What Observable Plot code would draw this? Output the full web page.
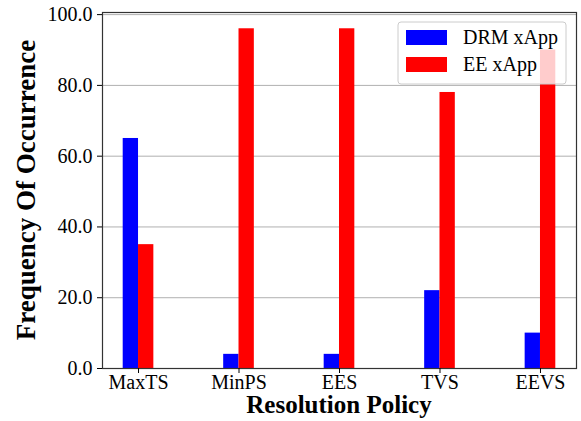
<!DOCTYPE html>
<html><head><meta charset="utf-8">
<script src="https://cdn.jsdelivr.net/npm/d3@7"></script>
<script src="https://cdn.jsdelivr.net/npm/@observablehq/plot@0.6"></script>
<style>body{margin:0;background:#fff;} #chart{position:relative;width:581px;height:421px;}
#chart svg text{font-family:"Liberation Serif","Times New Roman",serif;}</style>
</head><body><div id="chart"></div>
<script>
const categories = ["MaxTS", "MinPS", "EES", "TVS", "EEVS"];
const drmValues = [65, 4, 4, 22, 10];
const eeValues = [35, 96, 96, 78, 90];
const seriesNames = ["DRM xApp", "EE xApp"];
const seriesColors = ["#0000ff", "#ff0000"];
const yTicks = [0, 20, 40, 60, 80, 100];
const xLabel = "Resolution Policy";
const yLabel = "Frequency Of Occurrence";

const W = 581, H = 421, mL = 102, mR = 5, mT = 12, mB = 53;
const pIn = 0.695, pOut = 0.206;
const step = (W - mL - mR) / (categories.length - pIn + 2 * pOut);
const half = step * (1 - pIn) / 2;

const drm = categories.map((c, i) => ({category: c, value: drmValues[i]}));
const ee = categories.map((c, i) => ({category: c, value: eeValues[i]}));
const font = "Liberation Serif, Times New Roman, serif";

const plot = Plot.plot({
  width: W, height: H, marginLeft: mL, marginRight: mR, marginTop: mT, marginBottom: mB,
  style: "font-family: 'Liberation Serif', serif; font-size: 20px; background: #fff; color: #000;",
  x: {domain: categories, paddingInner: pIn, paddingOuter: pOut, round: false, label: null},
  y: {domain: [0, 100.6], label: null},
  marks: [
    Plot.ruleY(yTicks, {stroke: "#b0b0b0", strokeWidth: 1}),
    Plot.barY(drm, {x: "category", y: "value", fill: seriesColors[0], insetLeft: 0, insetRight: half}),
    Plot.barY(ee, {x: "category", y: "value", fill: seriesColors[1], insetLeft: half, insetRight: 0}),
    Plot.frame({stroke: "#333", strokeWidth: 1.2}),
    Plot.axisX({tickSize: 5, tickPadding: 1, fontSize: 20, fontFamily: font, label: null}),
    Plot.axisY({ticks: yTicks, tickFormat: d => d.toFixed(1), tickSize: 5, tickPadding: 5, fontSize: 20, fontFamily: font, label: null})
  ]
});
document.getElementById("chart").appendChild(plot);

const svg = d3.select(plot);
svg.append("text").attr("x", 339).attr("y", 413).style("text-anchor", "middle")
  .style("font-family", font).style("font-weight", "bold").style("font-size", "25px").style("fill", "#000").text(xLabel);
svg.append("text").attr("transform", "translate(35,190) rotate(-90)").style("text-anchor", "middle")
  .style("font-family", font).style("font-weight", "bold").style("font-size", "27px").style("fill", "#000").text(yLabel);

const lg = svg.append("g");
lg.append("rect").attr("x", 398).attr("y", 22).attr("width", 168).attr("height", 62).attr("rx", 3).attr("ry", 3)
  .style("fill", "#ffffff").style("fill-opacity", 0.8).style("stroke", "#cccccc").style("stroke-width", 1);
seriesNames.forEach((name, i) => {
  lg.append("rect").attr("x", 406).attr("y", 30 + 27 * i).attr("width", 41).attr("height", 15).style("fill", seriesColors[i]);
  lg.append("text").attr("x", 463).attr("y", 44 + 27 * i).style("text-anchor", "start")
    .style("font-family", font).style("font-size", "20px").style("fill", "#000").text(name);
});
</script>
</body></html>
